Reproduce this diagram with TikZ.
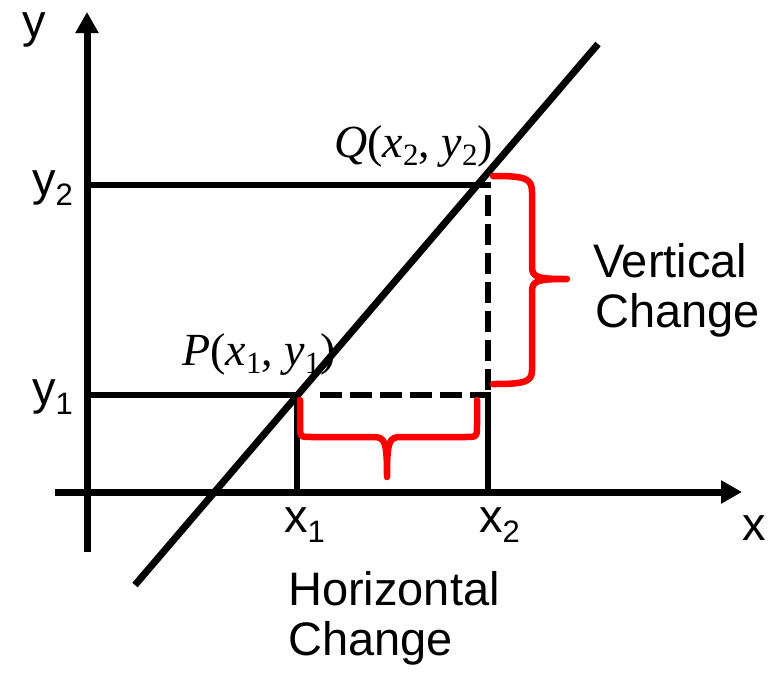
\documentclass[tikz,border=0pt]{standalone}
\usepackage{fontspec}
\setmainfont{Liberation Sans}
\newfontfamily\serifP{Liberation Serif}
\usetikzlibrary{arrows.meta}
\newcommand\subs[1]{\raisebox{-10pt}{\fontsize{31}{31}\selectfont #1}}
\newcommand\subt[1]{\raisebox{-8pt}{\fontsize{31}{31}\selectfont\upshape #1}}
\begin{document}
\begin{tikzpicture}[x=1pt,y=-1pt,
  axis/.style={line width=7pt,-{Triangle[length=21pt,width=22pt]}},
  guide/.style={line width=6pt,line cap=rect},
  vdash/.style={line width=6pt,dash pattern=on 21pt off 8pt,dash phase=19pt},
  hdash/.style={line width=6pt,dash pattern=on 0pt off 23pt on 22pt off 8pt on 22pt off 8pt on 22pt off 8pt on 22pt off 8pt on 22pt off 8pt on 22pt off 8pt},
  slope/.style={line width=7pt},
  brace/.style={line width=6.5pt,red,line cap=round,line join=round},
  lbl/.style={inner sep=0pt,anchor=base west,font=\fontsize{47}{50}\selectfont},
  ptlabel/.style={inner sep=0pt,anchor=base west,font=\serifP\fontsize{46}{50}\selectfont}]
\useasboundingbox (0,0) rectangle (779,672);
% named points
\coordinate (xs) at (55,492);
\coordinate (xe) at (742,492);
\coordinate (ys) at (87,552);
\coordinate (ye) at (87,12);
\coordinate (L1) at (135,585);
\coordinate (L2) at (598,44);
\coordinate (Y2) at (87,185);
\coordinate (Q) at (488,185);
\coordinate (Y1) at (87,395);
\coordinate (P) at (297,395);
\coordinate (R) at (488,395);
\coordinate (X1) at (297,492);
\coordinate (X2) at (488,492);
% guides
\draw[guide] (Y2) -- (Q);
\draw[vdash] (Q) -- (R);
\draw[guide] (Y1) -- (P);
\draw[hdash] (P) -- (R);
\draw[guide] (P) -- (X1);
\draw[guide] (R) -- (X2);
% axes
\draw[axis] (xs) -- (xe);
\draw[axis] (ys) -- (ye);
% line
\draw[slope] (L1) -- (L2);
% braces
\draw[brace] (300,400) -- (300,425) .. controls (300,437) .. (312,437) -- (373,437)
  .. controls (385,437) and (387,441) .. (387,477)
  .. controls (387,441) and (389,437) .. (401,437) -- (465,437)
  .. controls (477,437) .. (477,425) -- (477,400);
\draw[brace] (493,176) .. controls (525,176) and (532,178) .. (532,192) -- (532,266)
  .. controls (532,277) and (536,279) .. (567,279)
  .. controls (536,279) and (532,281) .. (532,292) -- (532,370)
  .. controls (532,382) and (525,384) .. (493,384);
% labels
\node[lbl] (ylab) at (22,37) {y};
\node[lbl] (y2lab) at (32,195) {y\subs{2}};
\node[lbl] (y1lab) at (32,404) {y\subs{1}};
\node[lbl] (x1lab) at (284,532) {x\subs{1}};
\node[lbl] (x2lab) at (479,532) {x\subs{2}};
\node[lbl] (xlab) at (742,540) {x};
\node[lbl] (v1) at (593,277) {Vertical};
\node[lbl] (v2) at (595,327) {Change};
\node[lbl] (h1) at (288,605) {Horizontal};
\node[lbl] (h2) at (288,655) {Change};
\node[ptlabel] (plab) at (182,365) {\textit{P}(\textit{x}\subt{1}, \textit{y}\subt{1})};
\node[ptlabel] (qlab) at (334,157) {\textit{Q}(\textit{x}\subt{2}, \textit{y}\subt{2})};
\end{tikzpicture}
\end{document}
